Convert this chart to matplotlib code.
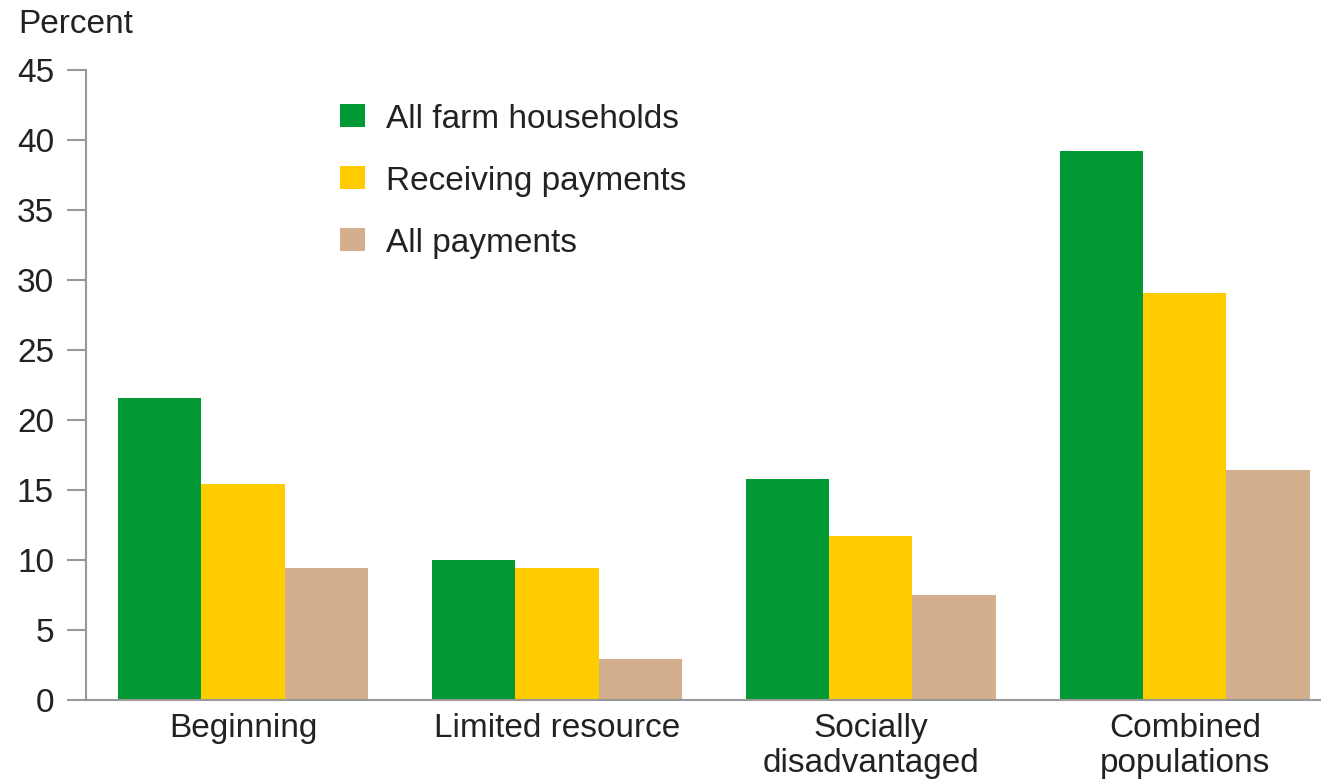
import numpy as np
import matplotlib
matplotlib.use('Agg')
import matplotlib.pyplot as plt

plt.rcParams['font.family'] = ['Liberation Sans', 'DejaVu Sans']

# ---------------- data ----------------
categories = ['Beginning', 'Limited resource', 'Socially\ndisadvantaged', 'Combined\npopulations']
series_names = ['All farm households', 'Receiving payments', 'All payments']
all_farm_households = [21.6, 10.0, 15.8, 39.2]
receiving_payments = [15.4, 9.4, 11.7, 29.1]
all_payments = [9.4, 2.9, 7.5, 16.4]
yticks = [0, 5, 10, 15, 20, 25, 30, 35, 40, 45]

colors = ['#009933', '#FFCC00', '#D3AF8D']
grey = '#999999'
fs = 24

fig = plt.figure(figsize=(13.21, 7.79), dpi=100)
ax = fig.add_axes([0.0651, 0.1014, 0.934, 0.8087])

x = np.arange(len(categories))
w = 0.265
for i, (vals, name) in enumerate(zip([all_farm_households, receiving_payments, all_payments], series_names)):
    ax.bar(x + (i - 1) * w, vals, width=w, color=colors[i], label=name, linewidth=0)

ax.set_xlim(-0.5, 3.43)
ax.set_ylim(0, 45)
ax.set_yticks(yticks)
ax.set_xticks(x)
ax.set_xticklabels(categories, fontsize=fs, color='#222222', linespacing=1.2)
ax.tick_params(axis='y', labelsize=fs, labelcolor='#222222', length=14, width=1.5,
               color=grey, pad=9)
ax.tick_params(axis='x', length=0, pad=9)

for s in ['top', 'right']:
    ax.spines[s].set_visible(False)
for s in ['left', 'bottom']:
    ax.spines[s].set_color(grey)
    ax.spines[s].set_linewidth(1.5)

fig.text(0.0136, 0.968, 'Percent', fontsize=fs, color='#222222', va='center', ha='left')

leg = ax.legend(loc='upper left', bbox_to_anchor=(0.195, 0.968), frameon=False,
                fontsize=fs, handlelength=0.75, handleheight=0.69,
                handletextpad=0.63, labelspacing=0.93, borderaxespad=0)
for t in leg.get_texts():
    t.set_color('#222222')

fig.savefig('out.png', dpi=100)
